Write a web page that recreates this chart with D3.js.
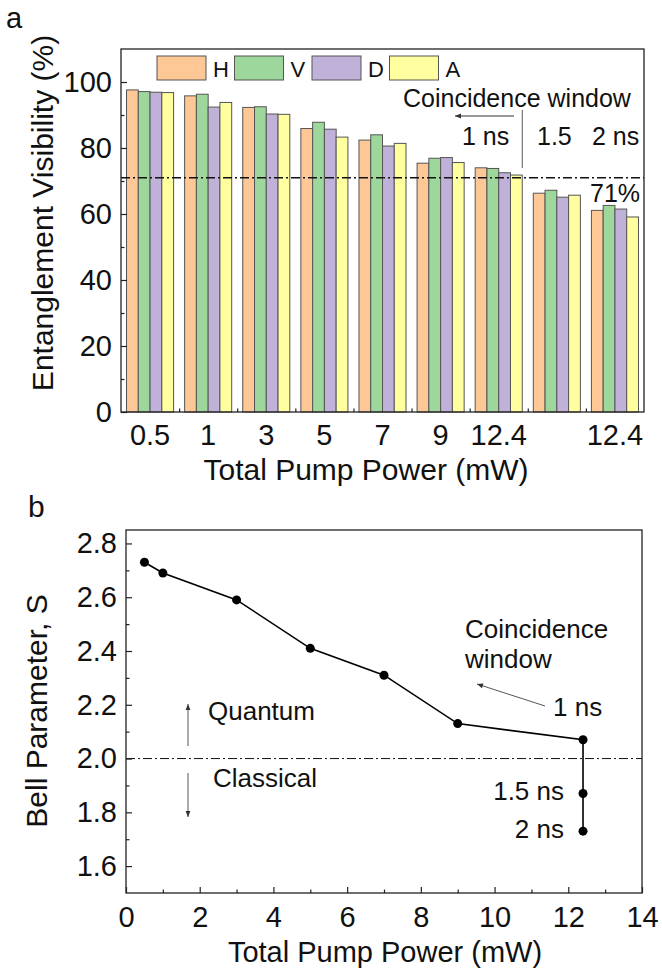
<!DOCTYPE html>
<html>
<head>
<meta charset="utf-8">
<script src="https://cdn.jsdelivr.net/npm/d3@7"></script>
<style>
  html, body { margin: 0; padding: 0; background: #fff; }
  svg { display: block; font-family: "Liberation Sans", Arial, sans-serif; }
</style>
</head>
<body>
<div id="chart"></div>
<script>
// ---- panel a data ----
const groupLabels = ['0.5', '1', '3', '5', '7', '9', '12.4', '', '12.4'];
const seriesNames = ['H', 'V', 'D', 'A'];
const seriesColors = ['#fdc895', '#9dd79c', '#c0b1d8', '#ffff9f'];
const visH = [97.6, 95.8, 92.3, 85.9, 82.4, 75.4, 74.0, 66.3, 61.1];
const visV = [97.1, 96.3, 92.5, 87.8, 84.0, 76.9, 73.8, 67.2, 62.6];
const visD = [96.9, 92.4, 90.3, 85.7, 80.6, 77.1, 72.5, 65.1, 61.5];
const visA = [96.8, 93.8, 90.2, 83.3, 81.4, 75.6, 71.8, 65.7, 59.1];
const visTicks = [0, 20, 40, 60, 80, 100];
const visThreshold = 71;

// ---- panel b data ----
const pumpPower = [0.5, 1, 3, 5, 7, 9, 12.4, 12.4, 12.4];
const bellS = [2.73, 2.69, 2.59, 2.41, 2.31, 2.13, 2.07, 1.87, 1.73];
const powerTicks = [0, 2, 4, 6, 8, 10, 12, 14];
const sTicks = [1.6, 1.8, 2.0, 2.2, 2.4, 2.6, 2.8];
const sClassicalLimit = 2.0;

const W = 662, H = 971;
const ink = '#222';

const svg = d3.select('#chart').append('svg')
  .attr('width', W).attr('height', H).attr('viewBox', `0 0 ${W} ${H}`);

// arrowhead marker
svg.append('defs').append('marker')
  .attr('id', 'arr')
  .attr('viewBox', '0 0 10 10')
  .attr('refX', 10).attr('refY', 5)
  .attr('markerWidth', 8).attr('markerHeight', 6)
  .attr('markerUnits', 'userSpaceOnUse')
  .attr('orient', 'auto')
  .append('path').attr('d', 'M0,1 L10,5 L0,9 Z').attr('fill', '#333');

function styleAxis(ax, size) {
  ax.select('.domain').remove();
  ax.selectAll('line').attr('stroke', ink).attr('stroke-width', 1.2);
  ax.selectAll('text').attr('font-size', size + 'px').attr('fill', '#111')
    .attr('font-family', '"Liberation Sans", Arial, sans-serif');
}

// ================= panel a =================
const a = { left: 121, right: 644, top: 49, bottom: 412 };
const x = d3.scaleBand().domain(d3.range(groupLabels.length))
  .range([a.left, a.right]).paddingInner(0.19).paddingOuter(0.095);
const xs = d3.scaleBand().domain(seriesNames).range([0, x.bandwidth()]);
const y = d3.scaleLinear().domain([0, 110]).range([a.bottom, a.top]);
const xEdges = d3.scaleLinear().domain([0, groupLabels.length]).range([a.left, a.right]);

const seriesData = [visH, visV, visD, visA];
const barData = [];
seriesData.forEach((vals, si) => vals.forEach((v, gi) => barData.push({ g: gi, s: seriesNames[si], c: seriesColors[si], v })));

const gA = svg.append('g');
gA.selectAll('rect.bar').data(barData).join('rect')
  .attr('class', 'bar')
  .attr('x', d => x(d.g) + xs(d.s))
  .attr('y', d => y(d.v))
  .attr('width', xs.bandwidth())
  .attr('height', d => y(0) - y(d.v))
  .attr('fill', d => d.c)
  .attr('stroke', '#555').attr('stroke-width', 1);

// threshold 71 %
gA.append('line')
  .attr('x1', a.left).attr('x2', a.right)
  .attr('y1', y(visThreshold)).attr('y2', y(visThreshold))
  .attr('stroke', '#111').attr('stroke-width', 1.6)
  .attr('stroke-dasharray', '9,3,2,3');

// axes
gA.append('g').attr('transform', `translate(${a.left},0)`)
  .call(d3.axisLeft(y).tickValues(visTicks).tickSize(-6).tickPadding(9))
  .call(ax => styleAxis(ax, 29));
gA.append('g').attr('transform', `translate(${a.left},0)`)
  .call(d3.axisLeft(y).tickValues([10, 30, 50, 70, 90]).tickSize(-3.5).tickFormat(''))
  .call(ax => styleAxis(ax, 29));
gA.append('g').attr('transform', `translate(0,${a.bottom})`)
  .call(d3.axisBottom(x).tickSize(0).tickPadding(12).tickFormat(i => groupLabels[i]))
  .call(ax => styleAxis(ax, 29));
gA.append('g').attr('transform', `translate(0,${a.bottom})`)
  .call(d3.axisBottom(xEdges).tickValues(d3.range(1, groupLabels.length)).tickSize(-3.5).tickFormat(''))
  .call(ax => styleAxis(ax, 29));

gA.append('rect')
  .attr('x', a.left).attr('y', a.top)
  .attr('width', a.right - a.left).attr('height', a.bottom - a.top)
  .attr('fill', 'none').attr('stroke', ink).attr('stroke-width', 1.3);

// legend
const leg = gA.append('g').attr('transform', `translate(157,56)`);
seriesNames.forEach((n, i) => {
  const lg = leg.append('g').attr('transform', `translate(${i * 77.5},0)`);
  lg.append('rect').attr('width', 49).attr('height', 24)
    .attr('fill', seriesColors[i]).attr('stroke', '#555').attr('stroke-width', 1);
  lg.append('text').attr('x', 56).attr('y', 21).attr('font-size', '22px').attr('fill', '#111').text(n);
});

// annotations
const annA = gA.append('g').attr('font-size', '25px').attr('fill', '#111');
annA.append('text').attr('x', 403).attr('y', 107).text('Coincidence window');
annA.append('line').attr('x1', 514).attr('x2', 455).attr('y1', 116).attr('y2', 116)
  .attr('stroke', '#333').attr('stroke-width', 1).attr('marker-end', 'url(#arr)');
annA.append('line').attr('x1', x(6) + x.bandwidth()).attr('x2', x(6) + x.bandwidth())
  .attr('y1', 110).attr('y2', 168).attr('stroke', '#555').attr('stroke-width', 1);
annA.append('text').attr('x', 462).attr('y', 145).text('1 ns');
annA.append('text').attr('x', 537).attr('y', 145).text('1.5');
annA.append('text').attr('x', 592).attr('y', 145).text('2 ns');
annA.append('text').attr('x', 590).attr('y', 202).text('71%');

// titles
svg.append('text').attr('x', 6).attr('y', 28).attr('font-size', '29px').attr('fill', '#111').text('a');
svg.append('text').attr('transform', 'translate(53,213) rotate(-90)')
  .attr('text-anchor', 'middle').attr('font-size', '30px').attr('fill', '#111')
  .text('Entanglement Visibility (%)');
svg.append('text').attr('x', 366).attr('y', 480)
  .attr('text-anchor', 'middle').attr('font-size', '30px').attr('fill', '#111')
  .text('Total Pump Power (mW)');

// ================= panel b =================
const b = { left: 126, right: 642, top: 530, bottom: 893 };
const x2 = d3.scaleLinear().domain([0, 14]).range([b.left, b.right]);
const y2 = d3.scaleLinear().domain([1.5, 2.85]).range([b.bottom, b.top]);
const gB = svg.append('g');

gB.append('line')
  .attr('x1', b.left).attr('x2', b.right)
  .attr('y1', y2(sClassicalLimit)).attr('y2', y2(sClassicalLimit))
  .attr('stroke', '#111').attr('stroke-width', 1)
  .attr('stroke-dasharray', '9,3,2,3');

const pts = pumpPower.map((p, i) => ({ p, s: bellS[i] }));
gB.append('path').datum(pts)
  .attr('fill', 'none').attr('stroke', '#000').attr('stroke-width', 1.6)
  .attr('d', d3.line().x(d => x2(d.p)).y(d => y2(d.s)));
gB.selectAll('circle.pt').data(pts).join('circle')
  .attr('class', 'pt')
  .attr('cx', d => x2(d.p)).attr('cy', d => y2(d.s)).attr('r', 4.5).attr('fill', '#000');

gB.append('g').attr('transform', `translate(${b.left},0)`)
  .call(d3.axisLeft(y2).tickValues(sTicks).tickSize(-6).tickPadding(9).tickFormat(d3.format('.1f')))
  .call(ax => styleAxis(ax, 29));
gB.append('g').attr('transform', `translate(${b.left},0)`)
  .call(d3.axisLeft(y2).tickValues([1.7, 1.9, 2.1, 2.3, 2.5, 2.7]).tickSize(-3.5).tickFormat(''))
  .call(ax => styleAxis(ax, 29));
gB.append('g').attr('transform', `translate(0,${b.bottom})`)
  .call(d3.axisBottom(x2).tickValues(powerTicks).tickSize(-6).tickPadding(13))
  .call(ax => styleAxis(ax, 29));
gB.append('g').attr('transform', `translate(0,${b.bottom})`)
  .call(d3.axisBottom(x2).tickValues([1, 3, 5, 7, 9, 11, 13]).tickSize(-3.5).tickFormat(''))
  .call(ax => styleAxis(ax, 29));

gB.append('rect')
  .attr('x', b.left).attr('y', b.top)
  .attr('width', b.right - b.left).attr('height', b.bottom - b.top)
  .attr('fill', 'none').attr('stroke', ink).attr('stroke-width', 1.3);

// annotations
const annB = gB.append('g').attr('font-size', '26px').attr('fill', '#111');
annB.append('text').attr('x', 465).attr('y', 638).text('Coincidence');
annB.append('text').attr('x', 465).attr('y', 668).text('window');
annB.append('line').attr('x1', 545).attr('y1', 706).attr('x2', 477).attr('y2', 684)
  .attr('stroke', '#555').attr('stroke-width', 1).attr('marker-end', 'url(#arr)');
annB.append('text').attr('x', 553).attr('y', 716).text('1 ns');
annB.append('text').attr('x', 564).attr('y', 800).attr('text-anchor', 'end').text('1.5 ns');
annB.append('text').attr('x', 564).attr('y', 838).attr('text-anchor', 'end').text('2 ns');
annB.append('text').attr('x', 208).attr('y', 720).text('Quantum');
annB.append('text').attr('x', 213).attr('y', 787).text('Classical');
annB.append('line').attr('x1', 188).attr('x2', 188).attr('y1', 746).attr('y2', 704)
  .attr('stroke', '#555').attr('stroke-width', 1).attr('marker-end', 'url(#arr)');
annB.append('line').attr('x1', 188).attr('x2', 188).attr('y1', 773).attr('y2', 817)
  .attr('stroke', '#555').attr('stroke-width', 1).attr('marker-end', 'url(#arr)');

svg.append('text').attr('x', 28).attr('y', 517).attr('font-size', '30px').attr('fill', '#111').text('b');
svg.append('text').attr('transform', 'translate(47,711) rotate(-90)')
  .attr('text-anchor', 'middle').attr('font-size', '30px').attr('fill', '#111')
  .text('Bell Parameter, S');
svg.append('text').attr('x', 385).attr('y', 962)
  .attr('text-anchor', 'middle').attr('font-size', '29px').attr('fill', '#111')
  .text('Total Pump Power (mW)');
</script>
</body>
</html>
